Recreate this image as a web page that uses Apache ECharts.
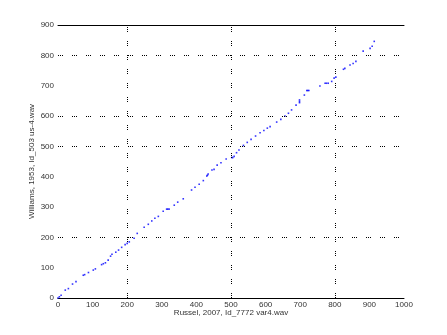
<!DOCTYPE html>
<html>
<head>
<meta charset="utf-8">
<script src="https://cdn.jsdelivr.net/npm/echarts@6/dist/echarts.min.js"></script>
<style>html,body{margin:0;padding:0;background:#fff}#c{width:447px;height:335px}</style>
</head>
<body>
<div id="c"></div>
<script>
var xTitle = 'Russel, 2007, Id_7772 var4.wav';
var yTitle = 'Williams, 1953, Id_503 us-4.wav';
var xTicks = [0,100,200,300,400,500,600,700,800,900,1000];
var yTicks = [0,100,200,300,400,500,600,700,800,900];
var gridX = [200,500,800];
var gridY = [200,500,600,800];
var xs = [0,4,9,21,30,42,52,73,77,88,102,108,126,131,137,145,152,156,167,175,184,194,200,206,220,229,249,261,271,280,290,304,314,317,321,336,346,362,386,396,408,420,430,432,434,445,451,460,471,486,502,505,509,516,523,536,547,558,571,584,595,605,613,632,644,656,666,675,688,698,698,698,712,719,722,725,757,772,776,781,791,798,803,825,829,844,853,861,882,902,908,914];
var ys = [0,4,9,26,31,46,54,75,77,84,92,96,110,113,116,125,138,144,151,158,167,176,180,185,197,213,233,243,254,263,269,286,293,293,293,306,316,327,356,365,375,387,402,405,409,422,424,438,446,458,463,463,467,479,488,503,513,523,534,545,552,560,565,580,589,600,609,620,636,644,648,653,669,684,684,684,699,708,708,708,714,725,728,754,757,768,773,780,814,823,830,846];

var pts = xs.map(function(x,i){return [x, ys[i]];});
var font = 'Liberation Sans, Arial, sans-serif';
var txt = '#333';
var chart = echarts.init(document.getElementById('c'), null, {renderer:'canvas'});
var dotted = {color:'#000', width:1, type:[1,1,1,1,1,9]};
chart.setOption({
  animation:false,
  grid:{left:58, right:43, top:25, bottom:37, containLabel:false},
  xAxis:[{
    type:'value', min:xTicks[0], max:xTicks[xTicks.length-1], interval:100,
    name:xTitle, nameLocation:'middle', nameGap:11, nameMoveOverlap:false,
    nameTextStyle:{fontFamily:font, fontSize:8, color:txt},
    axisLine:{show:true, onZero:false, lineStyle:{color:'#000', width:1}},
    axisTick:{show:false},
    axisLabel:{fontFamily:font, fontSize:8, color:txt, margin:3, formatter:function(v){return String(v);}},
    splitLine:{show:false}
  },{
    type:'value', min:xTicks[0], max:xTicks[xTicks.length-1], position:'top',
    axisLine:{show:true, onZero:false, lineStyle:{color:'#000', width:1}},
    axisTick:{show:false}, axisLabel:{show:false}, splitLine:{show:false}
  }],
  yAxis:{
    type:'value', min:yTicks[0], max:yTicks[yTicks.length-1], interval:100,
    name:yTitle, nameLocation:'middle', nameGap:22, nameMoveOverlap:false,
    nameTextStyle:{fontFamily:font, fontSize:8, color:txt},
    axisLine:{show:false}, axisTick:{show:false},
    axisLabel:{fontFamily:font, fontSize:8, color:txt, margin:4, formatter:function(v){return String(v);}},
    splitLine:{show:false}
  },
  series:[{
    type:'scatter', data:pts, symbol:'rect', symbolSize:1.6,
    itemStyle:{color:'#0000ff'}, silent:true,
    markLine:{
      silent:true, symbol:'none', label:{show:false},
      lineStyle:dotted,
      data: gridX.map(function(v){return {xAxis:v};}).concat(gridY.map(function(v){return {yAxis:v};}))
    }
  }]
});
</script>
</body>
</html>
